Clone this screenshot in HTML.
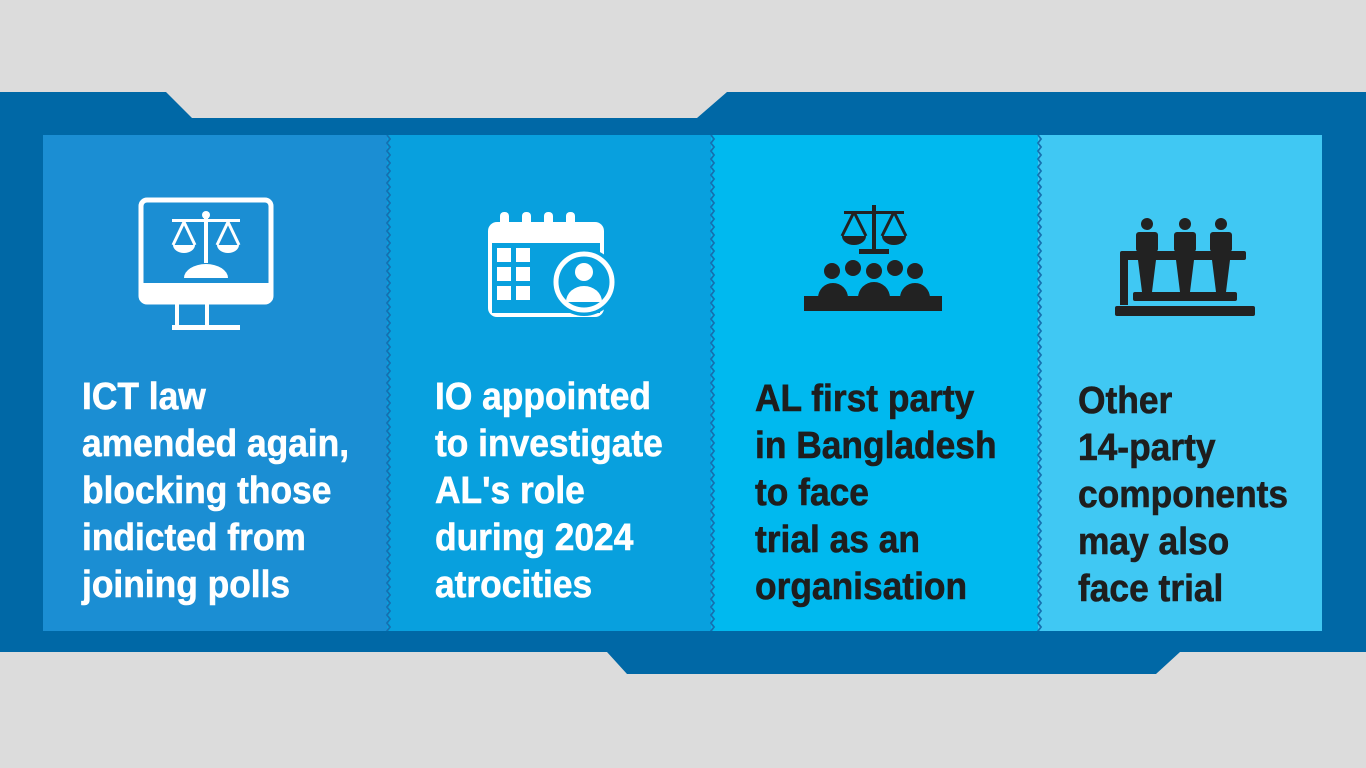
<!DOCTYPE html>
<html><head><meta charset="utf-8"><style>
html,body{margin:0;padding:0}
body{width:1366px;height:768px;background:#dcdcdc;position:relative;overflow:hidden}
.t{position:absolute;font-family:"Liberation Sans Narrow","Liberation Sans",sans-serif;font-weight:bold;font-size:38px;line-height:47px;white-space:nowrap;transform:scaleX(0.93);transform-origin:0 0;-webkit-text-stroke:0.6px currentColor}
</style></head><body>
<svg width="1366" height="768" style="position:absolute;left:0;top:0">
<defs><clipPath id="c"><rect x="0" y="135" width="1366" height="496"/></clipPath></defs>
<polygon fill="#0068a6" points="0,92 166,92 192,118 697,118 727,92 1366,92 1366,652 1180,652 1156,674 627,674 607,652 0,652"/>
<rect x="43" y="135" width="344" height="496" fill="#1b8ed3"/>
<rect x="387" y="135" width="324" height="496" fill="#08a0de"/>
<rect x="711" y="135" width="327" height="496" fill="#00b9ef"/>
<rect x="1038" y="135" width="284" height="496" fill="#40c8f3"/>
<g fill="none" stroke="#1570b0" stroke-width="1.8" clip-path="url(#c)">
<path id="z" d="M387,135 l3,4 l-3,4 l3,4 l-3,4 l3,4 l-3,4 l3,4 l-3,4 l3,4 l-3,4 l3,4 l-3,4 l3,4 l-3,4 l3,4 l-3,4 l3,4 l-3,4 l3,4 l-3,4 l3,4 l-3,4 l3,4 l-3,4 l3,4 l-3,4 l3,4 l-3,4 l3,4 l-3,4 l3,4 l-3,4 l3,4 l-3,4 l3,4 l-3,4 l3,4 l-3,4 l3,4 l-3,4 l3,4 l-3,4 l3,4 l-3,4 l3,4 l-3,4 l3,4 l-3,4 l3,4 l-3,4 l3,4 l-3,4 l3,4 l-3,4 l3,4 l-3,4 l3,4 l-3,4 l3,4 l-3,4 l3,4 l-3,4 l3,4 l-3,4 l3,4 l-3,4 l3,4 l-3,4 l3,4 l-3,4 l3,4 l-3,4 l3,4 l-3,4 l3,4 l-3,4 l3,4 l-3,4 l3,4 l-3,4 l3,4 l-3,4 l3,4 l-3,4 l3,4 l-3,4 l3,4 l-3,4 l3,4 l-3,4 l3,4 l-3,4 l3,4 l-3,4 l3,4 l-3,4 l3,4 l-3,4 l3,4 l-3,4 l3,4 l-3,4 l3,4 l-3,4 l3,4 l-3,4 l3,4 l-3,4 l3,4 l-3,4 l3,4 l-3,4 l3,4 l-3,4 l3,4 l-3,4 l3,4 l-3,4 l3,4 l-3,4 l3,4 l-3,4 l3,4 l-3,4 l3,4 l-3,4 l3,4 l-3,4 l3,4 l-3,4 l3,4 l-3,4 l3,4 l-3,4 l3,4 l-3,4 l3,4 l-3,4"/>
<use href="#z" x="324"/>
<use href="#z" x="651"/>
</g>
<g fill="none" stroke="#fff" stroke-width="5">
<rect x="141" y="200" width="130" height="102" rx="6"/>
</g>
<rect x="141" y="283" width="130" height="19" fill="#fff"/>
<rect x="175" y="302" width="4" height="24" fill="#fff"/><rect x="205" y="302" width="4" height="24" fill="#fff"/>
<rect x="172" y="325" width="68" height="5" fill="#fff"/>
<g fill="#fff" stroke="#fff">
<rect x="204" y="213" width="4" height="50" stroke="none"/>
<circle cx="206" cy="215" r="4" stroke="none"/>
<rect x="172" y="219" width="68" height="3" stroke="none"/>
<path d="M173,245 a11,8 0 0 0 22,0 z M217,245 a11,8 0 0 0 22,0 z" stroke="none"/>
<path d="M184,222 l-11,23 M184,222 l11,23 M228,222 l-11,23 M228,222 l11,23" fill="none" stroke-width="3"/>
<path d="M184,278 a22,14 0 0 1 44,0 z" stroke="none"/>
</g>
<rect x="488" y="222" width="116" height="95" rx="9" fill="#fff"/>
<rect x="492" y="243" width="108" height="70" fill="#08a0de"/>
<g fill="#fff">
<rect x="497" y="248" width="14" height="14"/><rect x="516" y="248" width="14" height="14"/>
<rect x="497" y="267" width="14" height="14"/><rect x="516" y="267" width="14" height="14"/>
<rect x="497" y="286" width="14" height="14"/><rect x="516" y="286" width="14" height="14"/>
<rect x="500" y="212" width="9" height="16" rx="4"/><rect x="522" y="212" width="9" height="16" rx="4"/>
<rect x="544" y="212" width="9" height="16" rx="4"/><rect x="566" y="212" width="9" height="16" rx="4"/>
</g>
<circle cx="584" cy="282" r="34" fill="#08a0de"/>
<circle cx="584" cy="282" r="28" fill="none" stroke="#fff" stroke-width="5"/>
<circle cx="584" cy="272" r="9" fill="#fff"/>
<path d="M566,302 a18,16 0 0 1 36,0 z" fill="#fff"/>
<g fill="#222">
<rect x="872" y="205" width="4" height="45"/>
<rect x="844" y="211" width="60" height="3"/>
<path d="M842,236 a12,9 0 0 0 24,0 z M882,236 a12,9 0 0 0 24,0 z"/>
<path d="M854,212 l-12,24 M854,212 l12,24 M894,212 l-12,24 M894,212 l12,24" fill="none" stroke="#222" stroke-width="3"/>
<rect x="859" y="249" width="30" height="5"/>
<circle cx="832" cy="271" r="8"/><circle cx="853" cy="268" r="8"/><circle cx="874" cy="271" r="8"/><circle cx="895" cy="268" r="8"/><circle cx="915" cy="271" r="8"/>
<path d="M818,298 a15,15 0 0 1 30,0 z M858,298 a15,15 0 0 1 32,0 z M900,298 a15,15 0 0 1 30,0 z"/>
<rect x="804" y="296" width="138" height="15"/>
</g>
<g fill="#222">
<circle cx="1147" cy="224" r="6"/><circle cx="1185" cy="224" r="6"/><circle cx="1221" cy="224" r="6"/>
<rect x="1136" y="232" width="22" height="20" rx="3"/><rect x="1174" y="232" width="22" height="20" rx="3"/><rect x="1210" y="232" width="22" height="20" rx="3"/>
<rect x="1120" y="251" width="126" height="9" rx="2"/>
<path d="M1138,260 h18 l-4,32 h-10 z M1176,260 h18 l-4,32 h-10 z M1212,260 h18 l-4,32 h-10 z"/>
<rect x="1120" y="255" width="8" height="50"/>
<rect x="1133" y="292" width="104" height="9" rx="2"/>
<rect x="1115" y="306" width="140" height="10" rx="2"/>
</g>
</svg>
<div class="t" style="left:82px;top:374px;color:#fff">ICT law<br>amended again,<br>blocking those<br>indicted from<br>joining polls</div>
<div class="t" style="left:435px;top:374px;color:#fff">IO appointed<br>to investigate<br>AL's role<br>during 2024<br>atrocities</div>
<div class="t" style="left:755px;top:376px;color:#1e1e1e">AL first party<br>in Bangladesh<br>to face<br>trial as an<br>organisation</div>
<div class="t" style="left:1078px;top:378px;color:#1e1e1e">Other<br>14-party<br>components<br>may also<br>face trial</div>
</body></html>
